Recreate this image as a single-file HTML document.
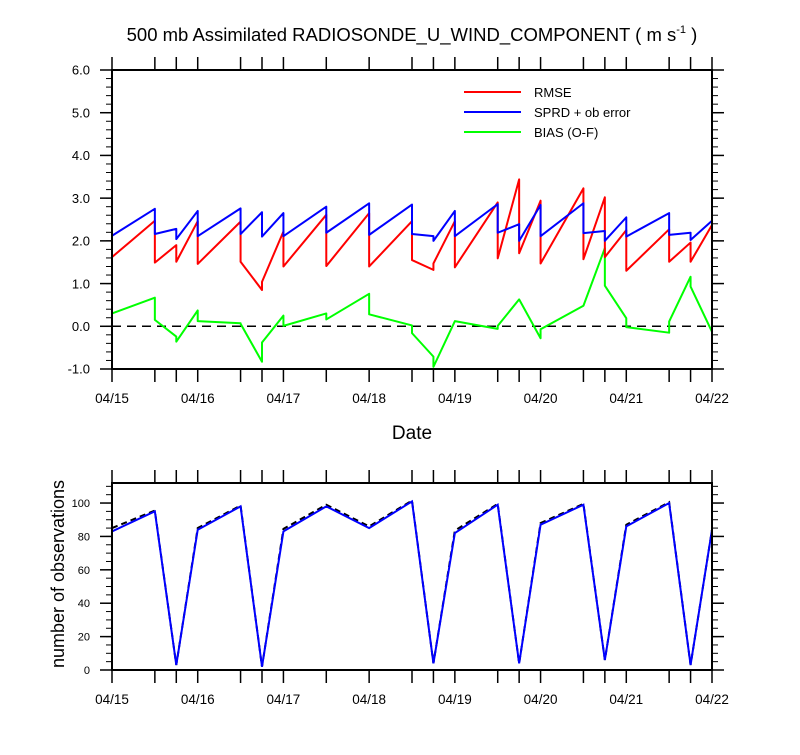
<!DOCTYPE html>
<html><head><meta charset="utf-8"><style>
body{margin:0;background:#fff;}
svg text{font-family:"Liberation Sans",sans-serif;fill:#000;}
</style></head><body>
<svg id="chart" width="800" height="750" xmlns="http://www.w3.org/2000/svg">
<rect width="800" height="750" fill="#fff"/>
<text x="412" y="41" font-size="18.5" text-anchor="middle">500 mb Assimilated RADIOSONDE_U_WIND_COMPONENT ( m s<tspan font-size="11" dy="-8">-1</tspan><tspan dy="8"> )</tspan></text>
<g id="top"></g>
<g id="bot"></g>
<text x="412" y="439" font-size="19" text-anchor="middle">Date</text>
<text transform="translate(64,574) rotate(-90)" font-size="18" text-anchor="middle">number of observations</text>
<g>
<line x1="464" y1="92" x2="521" y2="92" stroke="#f00" stroke-width="2"/><text x="534" y="97" font-size="13">RMSE</text>
<line x1="464" y1="112" x2="521" y2="112" stroke="#00f" stroke-width="2"/><text x="534" y="117" font-size="13">SPRD + ob error</text>
<line x1="464" y1="132" x2="521" y2="132" stroke="#0f0" stroke-width="2"/><text x="534" y="137" font-size="13">BIAS (O-F)</text>
</g>
</svg>
<script>
const hours=[0,12,18,24,36,42,48,60,72,84,90,96,108,114,120,132,138,144,156,162,168];
const dateLabels=["04/15","04/16","04/17","04/18","04/19","04/20","04/21","04/22"];
// per time: value at start of segment (after jump) and at end (arriving)
const rmseStart=[1.62,1.49,1.51,1.46,1.51,1.04,1.40,1.41,1.40,1.55,1.47,1.38,1.59,1.71,1.47,1.57,1.62,1.30,1.51,1.51,1.51];
const rmseEnd  =[1.62,2.47,1.90,2.46,2.45,0.85,2.22,2.61,2.65,2.46,1.32,2.46,2.90,3.44,2.94,3.23,3.02,2.25,2.27,1.96,2.37];
const sprdStart=[2.12,2.16,2.04,2.11,2.16,2.10,2.11,2.19,2.14,2.16,2.00,2.11,2.19,2.00,2.11,2.18,2.00,2.10,2.14,2.02,2.47];
const sprdEnd  =[2.12,2.75,2.28,2.70,2.76,2.67,2.65,2.80,2.88,2.85,2.11,2.70,2.86,2.39,2.84,2.88,2.23,2.55,2.65,2.19,2.47];
const biasStart=[0.30,0.15,-0.36,0.12,0.06,-0.38,0.01,0.16,0.28,-0.16,-0.95,0.12,0.01,0.63,-0.07,0.48,0.95,-0.02,0.11,0.93,-0.13];
const biasEnd  =[0.30,0.67,-0.24,0.37,0.07,-0.83,0.25,0.30,0.76,0.02,-0.71,0.12,-0.06,0.63,-0.28,0.48,1.83,0.19,-0.15,1.16,-0.13];
const obsAssim=[83,95,3,84,98,2,83,98,85,101,4,82,99,4,87,99,6,86,100,3,84];
const obsTotal=[85,95.5,3,85,98.5,2,84.5,99,86,101.5,4,83.5,99.5,4,88,99.5,6,87,100.5,3,84];
const yTicksTop=[-1,0,1,2,3,4,5,6];
const yTicksBot=[0,20,40,60,80,100];

const NS="http://www.w3.org/2000/svg";
const X0=112,X1=712;
const xs=h=>X0+(X1-X0)*h/168;
const T={top:70,bot:369,min:-1,max:6};
const ys=v=>T.bot-(v-T.min)/(T.max-T.min)*(T.bot-T.top);
const B={top:483,bot:670,min:0,max:112};
const yb=v=>B.bot-(v-B.min)/(B.max-B.min)*(B.bot-B.top);
function mk(p,tag,a){const e=document.createElementNS(NS,tag);for(const k in a)e.setAttribute(k,a[k]);p.appendChild(e);return e;}
function ln(p,x1,y1,x2,y2,w){return mk(p,'line',{x1,y1,x2,y2,stroke:'#000','stroke-width':w||1.5});}

function frame(g,top,bot,yTicks,fmt,ysc,minorStep,minV,maxV,fs,name){
  const r=mk(g,'rect',{x:X0,y:top,width:X1-X0,height:bot-top,fill:'none',stroke:'#000','stroke-width':2});
  
  
  hours.forEach(h=>{ln(g,xs(h),top,xs(h),top-13,1.5);ln(g,xs(h),bot,xs(h),bot+13,1.5);});
  dateLabels.forEach((d,i)=>{
    const t=mk(g,'text',{x:xs(i*24),y:bot+34,'font-size':13.5,'text-anchor':'middle'});t.textContent=d;
    
    
  });
  for(let v=minV;v<=maxV+1e-9;v+=minorStep){const y=ysc(v);ln(g,X0,y,X0-6,y,1);ln(g,X1,y,X1+6,y,1);}
  yTicks.forEach(v=>{const y=ysc(v);ln(g,X0,y,X0-12,y,1.5);ln(g,X1,y,X1+12,y,1.5);
    const t=mk(g,'text',{x:X0-22,y:y+fs*0.36,'font-size':fs,'text-anchor':'end'});t.textContent=fmt(v);
    
    
  });
}
function saw(g,st,en,sc,col,name){
  let d=`M${xs(hours[0])},${sc(st[0])}`;
  for(let i=1;i<hours.length;i++){d+=` L${xs(hours[i])},${sc(en[i])} L${xs(hours[i])},${sc(st[i])}`;}
  const p=mk(g,'path',{d,fill:'none',stroke:col,'stroke-width':2,'stroke-linejoin':'round'});
  
  
}
function simple(g,vals,sc,col,name,dash){
  const d=vals.map((v,i)=>(i?'L':'M')+xs(hours[i])+','+sc(v)).join(' ');
  const a={d,fill:'none',stroke:col,'stroke-width':2};if(dash)a['stroke-dasharray']=dash;
  const p=mk(g,'path',a);
  
  
}
const gt=document.getElementById('top'),gb=document.getElementById('bot');
const zl=mk(gt,'line',{x1:X0,y1:ys(0),x2:X1,y2:ys(0),stroke:'#000','stroke-width':1.5,'stroke-dasharray':'9,6'});


saw(gt,biasStart,biasEnd,ys,'#00ff00','bias-line');
saw(gt,rmseStart,rmseEnd,ys,'#ff0000','rmse-line');
saw(gt,sprdStart,sprdEnd,ys,'#0000ff','sprd-line');
frame(gt,T.top,T.bot,yTicksTop,v=>v.toFixed(1),ys,0.2,-1,6,13,'top');
simple(gb,obsTotal,yb,'#000','obs-total-line','6,4');
simple(gb,obsAssim,yb,'#0000ff','obs-assimilated-line');
frame(gb,B.top,B.bot,yTicksBot,v=>String(v),yb,5,0,110,11,'bottom');
</script>
</body></html>
